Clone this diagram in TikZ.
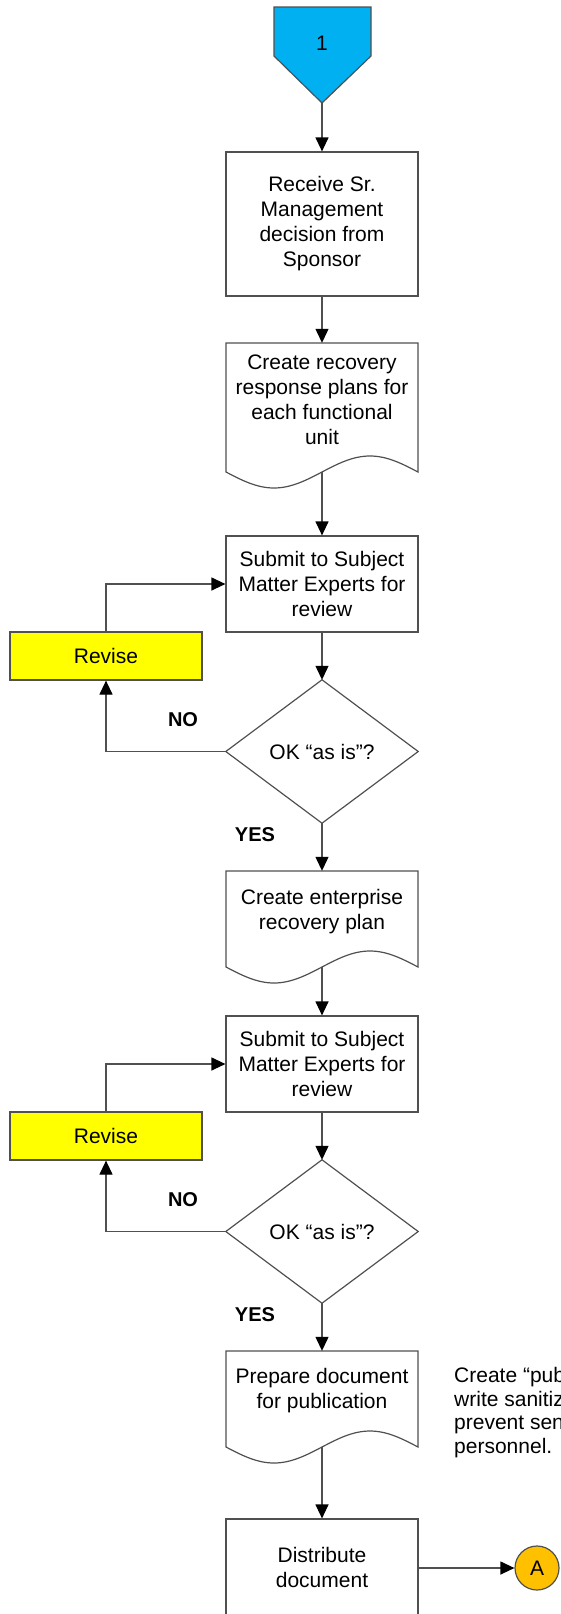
\documentclass[tikz,border=0pt]{standalone}
\usepackage{fontspec}
\setmainfont{Liberation Sans}
\usetikzlibrary{arrows.meta}
\definecolor{lc}{HTML}{505050}
\definecolor{cyanb}{HTML}{00B0F0}
\definecolor{ylw}{HTML}{FFFF00}
\definecolor{orng}{HTML}{FFC000}
\tikzset{
  txt/.style={font=\fontsize{21}{25}\selectfont, align=center, inner sep=0pt},
  procbox/.style={txt, draw=lc, line width=1.2pt, minimum width=192pt},
  revbox/.style={txt, draw=lc, line width=1.2pt, fill=ylw, minimum width=192pt, minimum height=48pt},
  area/.style={draw=none, inner sep=0pt, minimum width=192pt},
  shapeline/.style={draw=lc, line width=1.2pt},
  conn/.style={draw=lc, line width=1.2pt, -{Triangle[length=14pt,width=13pt,color=black]}},
  lbl/.style={font=\fontsize{20}{24}\selectfont\bfseries, inner sep=0pt},
}
\newcommand{\docpath}[2]{% top, L
  \draw[shapeline, fill=white] (226,#2) -- (226,#1) -- (418,#1) -- (418,#2)
    -- plot[domain=1:0, samples=61, smooth] ({226+192*\x},{#2+16*sin(360*\x)}) -- cycle;}
\begin{document}
\begin{tikzpicture}[x=1pt, y=-1pt]
\useasboundingbox (0,0) rectangle (561,1614);
\begin{scope}
\clip (0,0) rectangle (561,1614);
% start pentagon
\draw[shapeline, fill=cyanb] (274,7) -- (371,7) -- (371,56) -- (322,103) -- (274,56) -- cycle;
\node[area, minimum width=97pt, minimum height=96pt] (s1) at (322,55) {};
\node[txt] (s1t) at (322,43) {1};

% box 1
\node[procbox, minimum height=144pt] (b1) at (322,224) {Receive Sr.\\Management\\decision from\\Sponsor};

% doc 2
\docpath{343}{472}
\node[area, minimum height=129pt] (d2) at (322,407.5) {};
\node[txt] (d2t) at (322,400) {Create recovery\\response plans for\\each functional\\unit};

% box 3
\node[procbox, minimum height=96pt] (b3) at (322,584) {Submit to Subject\\Matter Experts for\\review};
\node[revbox] (r1) at (106,656) {Revise};
\node[area, minimum height=143pt] (q1) at (322,751.5) {};
\draw[shapeline] (q1.north) -- (q1.east) -- (q1.south) -- (q1.west) -- cycle;
\node[txt] (q1t) at (322,752) {OK “as is”?};
\node[lbl] (no1) at (183,720) {NO};
\node[lbl] (yes1) at (255,835) {YES};

% doc 4
\docpath{871}{967}
\node[area, minimum height=96pt] (d4) at (322,919) {};
\node[txt] (d4t) at (322,912) {Create enterprise\\recovery plan};

% box 5
\node[procbox, minimum height=96pt] (b5) at (322,1064) {Submit to Subject\\Matter Experts for\\review};
\node[revbox] (r2) at (106,1136) {Revise};
\node[area, minimum height=143pt] (q2) at (322,1231.5) {};
\draw[shapeline] (q2.north) -- (q2.east) -- (q2.south) -- (q2.west) -- cycle;
\node[txt] (q2t) at (322,1232) {OK “as is”?};
\node[lbl] (no2) at (183,1200) {NO};
\node[lbl] (yes2) at (255,1315) {YES};

% doc 7
\docpath{1351}{1447}
\node[area, minimum height=96pt] (d7) at (322,1399) {};
\node[txt] (d7t) at (322,1391) {Prepare document\\for publication};
\node[txt, anchor=west, align=left, font=\fontsize{21}{23.5}\selectfont] (note) at (454,1412.5) {Create “pub\\write sanitiz\\prevent sen\\personnel.};

% box 8
\node[procbox, minimum height=96pt] (b8) at (322,1567) {Distribute\\document};
\node[circle, draw=lc, line width=1.2pt, fill=orng, minimum size=44pt, inner sep=0pt, font=\fontsize{21}{25}\selectfont] (ca) at (537,1568) {A};

% connectors
\draw[conn] (s1.south) -- (b1.north);
\draw[conn] (b1.south) -- (d2.north);
\draw[conn] (d2.south) -- (b3.north);
\draw[conn] (b3.south) -- (q1.north);
\draw[conn] (q1.west) -| (r1.south);
\draw[conn] (r1.north) |- (b3.west);
\draw[conn] (q1.south) -- (d4.north);
\draw[conn] (d4.south) -- (b5.north);
\draw[conn] (b5.south) -- (q2.north);
\draw[conn] (q2.west) -| (r2.south);
\draw[conn] (r2.north) |- (b5.west);
\draw[conn] (q2.south) -- (d7.north);
\draw[conn] (d7.south) -- (b8.north);
\draw[conn] (b8.east |- ca.west) -- (ca.west);
\end{scope}
\end{tikzpicture}
\end{document}
